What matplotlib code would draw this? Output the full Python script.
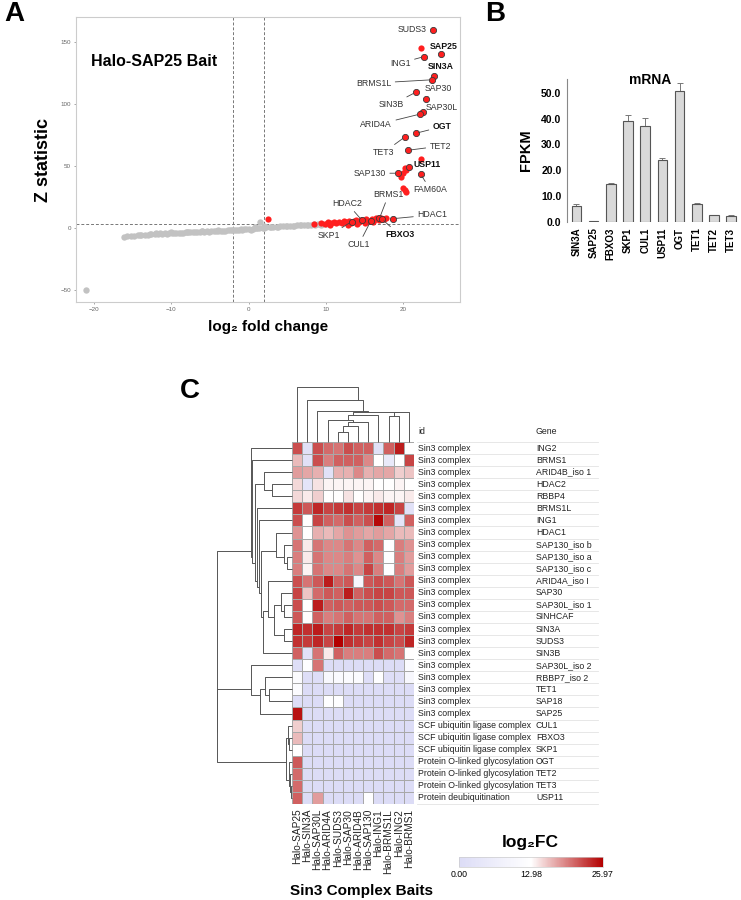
import matplotlib
matplotlib.use('Agg')
import matplotlib.pyplot as plt
import matplotlib.transforms as mtransforms
from matplotlib.colors import LinearSegmentedColormap
import numpy as np

plt.rcParams['font.family'] = ['Liberation Sans', 'DejaVu Sans']

# ---------------- data: panel A (volcano) ----------------
grey_x = [-21.0, -16.1, -15.2, -14.8, -14.3, -13.9, -13.4, -13.0, -12.6, -12.1, -11.7, -11.2,
          -10.8, -10.3, -9.9, -9.4, -9.0, -8.5, -8.1, -7.6, -7.2, -6.7, -6.3, -5.8, -5.4,
          -4.9, -4.5, -4.0, -3.6, -3.1, -2.7, -2.2, -1.8, -1.3, -0.9, -0.4, 0.0, 0.5, 0.9,
          1.4, 1.5, 1.8, 2.3, 2.7, 3.2, 3.6, 4.1, 4.5, 5.0, 5.4, 5.9, 6.3, 6.8, 7.2, 7.7,
          8.1, 8.6, 9.0, 9.5, -12.0, -10.0, -8.0, -6.0, -4.0, -2.0, -1.0, 0.8, 2.0,
          -15.7, -14.0, -12.8, -11.5, -10.5, -9.6, -8.7, -7.8, -6.9, -6.0, -5.1, -4.2, -3.3,
          -2.4, -1.5, -0.6, 0.3, 1.1, 2.0, 2.9, 3.8, 4.8, 5.7, 6.6, 7.5, 8.4, 9.3, 10.0]
grey_y = [-50.0, -7.0, -6.2, -6.4, -5.7, -5.9, -5.3, -5.4, -4.9, -5.1, -4.6, -4.7,
          -4.3, -4.4, -4.0, -4.1, -3.8, -3.8, -3.5, -3.6, -3.3, -3.3, -3.0, -3.1, -2.8,
          -2.8, -2.5, -2.6, -2.3, -2.2, -2.0, -1.9, -1.7, -1.5, -1.3, -1.2, -1.0, -0.6, -0.4,
          0.0, 5.0, 0.2, 0.5, 0.7, 0.9, 1.0, 1.2, 1.3, 1.5, 1.6, 1.8, 2.0, 2.1, 2.3, 2.4,
          2.6, 2.7, 2.9, 3.0, -4.0, -3.4, -2.9, -2.4, -1.9, -1.3, -0.8, 0.8, 1.6,
          -6.8, -5.3, -5.2, -4.2, -4.6, -3.7, -4.1, -3.2, -3.6, -2.7, -3.2, -2.2, -2.6,
          -1.6, -2.0, -0.9, -1.3, -0.1, 0.0, 0.9, 0.7, 1.8, 1.4, 2.6, 2.0, 3.2, 2.6, 3.4]

red_x = [2.5, 8.5, 9.4, 9.8, 10.2, 10.6, 11.0, 11.3, 11.7, 12.0, 12.3, 12.6,
         12.9, 13.2, 13.6, 13.9, 14.2, 14.5, 14.9, 15.2, 15.5, 15.9, 16.2, 16.5, 16.8, 17.1,
         17.5, 17.8, 12.8, 14.0, 15.0, 10.5, 16.0,
         22.2, 22.3, 20.2, 20.3, 20.0, 19.7, 20.0, 20.2, 20.3, 22.3]
red_y = [7.3, 3.2, 4.0, 3.5, 4.5, 3.8, 5.0, 4.2, 4.8, 3.6, 5.3, 4.4,
         5.8, 4.0, 5.5, 6.3, 4.8, 6.0, 5.2, 6.8, 5.6, 7.0, 6.2, 7.6, 6.6, 8.0,
         7.2, 8.4, 2.6, 3.2, 3.8, 2.4, 4.8,
         145.4, 55.6, 48.6, 46.8, 44.0, 41.4, 32.5, 30.6, 29.3, 92.5]

hit_names = ['SUDS3', 'SAP25', 'ING1', 'SIN3A', 'BRMS1L', 'SAP30', 'SIN3B', 'SAP30L', 'ARID4A',
             'OGT', 'TET3', 'TET2', 'USP11', 'SAP130', 'FAM60A', 'BRMS1', 'HDAC2', 'HDAC1',
             'SKP1', 'CUL1', 'FBXO3']
hit_x = [23.8, 24.9, 22.6, 24.0, 23.7, 22.9, 21.6, 22.5, 22.1, 21.6, 20.2, 20.6, 20.7, 19.3,
         22.2, 16.9, 14.6, 18.7, 13.3, 15.8, 17.2]
hit_y = [159.7, 140.0, 138.0, 122.3, 119.4, 104.3, 109.4, 93.8, 91.7, 76.3, 73.4, 62.6, 49.2,
         44.1, 43.5, 7.8, 6.4, 7.5, 5.1, 5.9, 7.3]
bold_hits = ['SAP25', 'SIN3A', 'OGT', 'USP11', 'FBXO3']

# ---------------- data: panel B (mRNA) ----------------
genes_b = ['SIN3A', 'SAP25', 'FBXO3', 'SKP1', 'CUL1', 'USP11', 'OGT', 'TET1', 'TET2', 'TET3']
fpkm = [6.2, 0.2, 14.6, 39.0, 37.2, 23.8, 50.8, 7.1, 2.6, 2.5]
fpkm_err = [0.8, 0.0, 0.3, 2.2, 3.2, 0.8, 3.1, 0.2, 0.1, 0.1]

# ---------------- data: panel C (heatmap) ----------------
baits = ['Halo-SAP25', 'Halo-SIN3A', 'Halo-SAP30L', 'Halo-ARID4A', 'Halo-SUDS3', 'Halo-SAP30',
         'Halo-ARID4B', 'Halo-SAP130', 'Halo-ING1', 'Halo-BRMS1L', 'Halo-ING2', 'Halo-BRMS1']
row_ids = ['Sin3 complex'] * 23 + ['SCF ubiquitin ligase complex'] * 3 + \
          ['Protein O-linked glycosylation'] * 3 + ['Protein deubiquitination']
row_genes = ['ING2', 'BRMS1', 'ARID4B_iso 1', 'HDAC2', 'RBBP4', 'BRMS1L', 'ING1', 'HDAC1',
             'SAP130_iso b', 'SAP130_iso a', 'SAP130_iso c', 'ARID4A_iso I', 'SAP30',
             'SAP30L_iso 1', 'SINHCAF', 'SIN3A', 'SUDS3', 'SIN3B', 'SAP30L_iso 2',
             'RBBP7_iso 2', 'TET1', 'SAP18', 'SAP25', 'CUL1', 'FBXO3', 'SKP1', 'OGT',
             'TET2', 'TET3', 'USP11']
log2fc = [
    [22, 2, 22, 20.5, 20, 22, 21, 21, 2, 21, 24.5, 13],
    [16.5, 2, 22, 19.5, 21, 21, 21, 19, 13, 5, 13, 22.5],
    [18, 17.5, 17, 2, 17, 17, 19, 17, 17.5, 17.5, 15.5, 16],
    [15, 3, 14.5, 13.5, 13.5, 13.5, 13.5, 13.5, 13, 13, 13.5, 13],
    [15, 14, 15.5, 13, 13, 14.5, 13, 13.5, 14, 13.5, 13.5, 14],
    [23, 21.5, 24, 22.5, 23, 23.5, 22.5, 23, 23.5, 24, 22.5, 2],
    [22, 13, 22.5, 21, 20.5, 22, 21, 22, 25.5, 21, 3, 21],
    [18.5, 13, 17, 16.5, 17.5, 18.5, 18, 17.5, 18, 17.5, 16.5, 16.5],
    [20, 14, 20, 19, 19, 20, 19, 21, 20.5, 12.5, 19.5, 18.5],
    [19.5, 14, 20, 19, 19, 19.5, 18.5, 21, 19, 12.5, 19.5, 18],
    [19.5, 13.5, 20, 19, 19, 20, 19, 22.5, 19.5, 12.5, 19.5, 18],
    [22, 20, 21.5, 24.5, 21, 21.5, 10, 21.5, 22, 21.5, 20, 21.5],
    [22.5, 16, 20.5, 21.5, 21, 24.5, 21, 22, 22.5, 22.5, 21.5, 21.5],
    [22, 13, 24.5, 21, 21.5, 21, 21.5, 21.5, 22, 21.5, 20.5, 20.5],
    [21.5, 13, 21, 19.5, 20, 21, 20, 20, 21, 21, 18.5, 19.5],
    [24, 23.5, 24.5, 22.5, 23, 24, 23, 23.5, 23.5, 23.5, 22.5, 23],
    [23.5, 23, 24, 22.5, 26, 23.5, 23, 22.5, 23.5, 22.5, 22, 24],
    [21, 2, 20, 14, 21, 19.5, 19.5, 19.5, 22, 20.5, 20, 13],
    [1, 12.5, 20, 0, 0, 0, 0, 0, 0, 0, 0, 11.5],
    [11.5, 1, 1, 10.5, 11, 11.5, 11.5, 1, 12.5, 1, 1, 10],
    [11.5, 0, 0, 0, 0, 0, 0, 0, 0, 0, 0, 0],
    [1, 0, 0, 12.5, 12.5, 0, 0, 0, 0, 0, 0, 0],
    [25, 0, 0, 0, 0, 0, 0, 0, 0, 0, 0, 0],
    [15.5, 0, 0, 0, 0, 0, 0, 0, 0, 0, 0, 0],
    [16.5, 0, 0, 0, 0, 0, 0, 0, 0, 0, 0, 0],
    [13, 0, 0, 0, 0, 0, 0, 0, 0, 0, 0, 0],
    [21.5, 0, 0, 0, 0, 0, 0, 0, 0, 0, 0, 0],
    [20.5, 0, 0, 0, 0, 0, 0, 0, 0, 0, 0, 0],
    [20.5, 0, 0, 0, 0, 0, 0, 0, 0, 0, 0, 0],
    [21, 0, 18, 0, 0, 0, 0, 12.5, 0, 0, 0, 0],
]

# dendrograms: nodes are (left, right, height), leaves are row / column indices
hdac2_grp = (2, (3, 4, 60), 85)
hdac1_grp = (7, (8, (9, 10, 15), 23), 48)
sap30_grp = ((12, (13, 14, 23), 33), (15, 16, 23), 55)
arid4a_grp = ((11, sap30_grp, 72), 17, 87)
core = (5, (6, (hdac1_grp, arid4a_grp, 92), 99), 105)
sin3_grp = (0, (1, (hdac2_grp, core, 112), 121), 122)
low_grp = (18, ((19, (20, 21, 68), 82), 22, 95), 122)
other_grp = ((23, (24, 25, 8), 12), (26, (27, (28, 29, 3), 5), 8), 18)
row_tree = (sin3_grp, (low_grp, other_grp, 224), 225)

c_mid = (3, ((((4, 5, 30), 6, 48), 7, 58)), 65)
c_left = (c_mid, 8, 80)
c_right = ((9, 10, 78), 11, 88)
col_tree = (0, (1, (2, (c_left, c_right, 90), 93), 125), 163)

W, H = 741, 900
fig = plt.figure(figsize=(W / 100, H / 100), dpi=100)


def px_axes(x0, y0, x1, y1):
    return fig.add_axes([x0 / W, 1 - y1 / H, (x1 - x0) / W, (y1 - y0) / H])


def draw_tree(ax, node, top):
    # returns leaf span (lo, hi) and height; links sit at the centre of the span
    if isinstance(node, int):
        return node, node, 0.0
    left, right, h = node
    lo1, hi1, h1 = draw_tree(ax, left, top)
    lo2, hi2, h2 = draw_tree(ax, right, top)
    p1 = (lo1 + hi1) / 2 + 0.5
    p2 = (lo2 + hi2) / 2 + 0.5
    xs, ys = [p1, p1, p2, p2], [h1, h, h, h2]
    if not top:
        xs, ys = ys, xs
    ax.plot(xs, ys, color='#555555', lw=0.7, clip_on=False, solid_capstyle='butt')
    return min(lo1, lo2), max(hi1, hi2), h


# ================= Panel A =================
axA = px_axes(76, 17, 460, 302)
axA.scatter(grey_x, grey_y, s=21, color='#c2c2c2', linewidths=0, zorder=2)
axA.scatter(red_x, red_y, s=20, color='#ff1f1f', linewidths=0, zorder=3)
axA.scatter(hit_x, hit_y, s=20, color='#ff1f1f', edgecolors='#3a3a3a', linewidths=0.6, zorder=4)
for v in (-2, 2):
    axA.axvline(v, ls=(0, (3, 2)), color='#777777', lw=0.7, zorder=1)
axA.axhline(3, ls=(0, (3, 2)), color='#777777', lw=0.7, zorder=1)
axA.set_xlim(-22.3, 27.3)
axA.set_ylim(-59.7, 170)
axA.set_xticks([-20, -10, 0, 10, 20])
axA.set_yticks([-50, 0, 50, 100, 150])
axA.tick_params(labelsize=4.5, colors='#666666', length=1.5, width=0.4, pad=2)
for sp in axA.spines.values():
    sp.set_color('#cccccc')
    sp.set_linewidth(0.8)
axA.set_xlabel('log₂ fold change', fontsize=11, fontweight='bold', labelpad=6)
axA.set_ylabel('Z statistic', fontsize=13, fontweight='bold', labelpad=6)
axA.text(-20.4, 134, 'Halo-SAP25 Bait', fontsize=11.5, fontweight='bold', va='center')

label_layout = [
    ('SUDS3', 23.0, 160, 'right', False),
    ('SAP25', 23.4, 146, 'left', False),
    ('ING1', 20.9, 132.8, 'right', True),
    ('SIN3A', 23.1, 130, 'left', False),
    ('BRMS1L', 18.4, 116.7, 'right', True),
    ('SAP30', 22.7, 112.3, 'left', True),
    ('SIN3B', 20.1, 99.2, 'right', True),
    ('SAP30L', 22.9, 96.8, 'left', False),
    ('ARID4A', 18.5, 83, 'right', True),
    ('OGT', 23.8, 81.7, 'left', True),
    ('TET3', 18.8, 60.7, 'right', True),
    ('TET2', 23.4, 66, 'left', True),
    ('USP11', 21.3, 51.2, 'left', False),
    ('SAP130', 17.7, 44.1, 'right', True),
    ('FAM60A', 23.5, 30.6, 'center', True),
    ('BRMS1', 18.1, 27.2, 'center', True),
    ('HDAC2', 12.7, 19.9, 'center', True),
    ('HDAC1', 21.8, 10.5, 'left', True),
    ('SKP1', 10.4, -6.2, 'center', True),
    ('CUL1', 14.2, -13.7, 'center', True),
    ('FBXO3', 17.6, -5.6, 'left', True),
]
for name, lx, ly, ha, line in label_layout:
    i = hit_names.index(name)
    bold = name in bold_hits
    props = dict(arrowstyle='-', color='#444444', lw=0.6, shrinkA=1, shrinkB=2) if line else None
    axA.annotate(name, xy=(hit_x[i], hit_y[i]), xytext=(lx, ly), ha=ha, va='center',
                 fontsize=6.3, fontweight='bold' if bold else 'normal',
                 color='#111111' if bold else '#333333', arrowprops=props, zorder=5)

fig.text(4 / W, 1 - 14 / H, 'A', fontsize=20, fontweight='bold', va='center')

# ================= Panel B =================
axB = px_axes(567, 79, 738, 222)
xb = np.arange(len(genes_b))
axB.bar(xb, fpkm, width=0.56, color='#d9d9d9', edgecolor='#555555', linewidth=0.8, zorder=2)
axB.errorbar(xb, fpkm, yerr=[np.zeros(len(fpkm)), fpkm_err], fmt='none', ecolor='#777777',
             elinewidth=0.7, capsize=2, capthick=0.7, zorder=1)
axB.set_xlim(-0.55, 9.4)
axB.set_ylim(0, 55.3)
axB.set_yticks([0, 10, 20, 30, 40, 50])
axB.set_yticklabels([f'{v:.1f}' for v in [0, 10, 20, 30, 40, 50]], fontsize=7.5, fontweight='bold')
axB.set_xticks(xb)
axB.set_xticklabels(genes_b, rotation=90, fontsize=7, fontweight='bold')
axB.tick_params(length=0, pad=4)
for s in ('top', 'right', 'bottom'):
    axB.spines[s].set_visible(False)
axB.spines['left'].set_color('#888888')
axB.spines['left'].set_linewidth(0.8)
axB.set_ylabel('FPKM', fontsize=10.5, fontweight='bold', labelpad=6)
fig.text(650 / W, 1 - 80 / H, 'mRNA', fontsize=10, fontweight='bold', ha='center', va='center')
fig.text(485 / W, 1 - 14 / H, 'B', fontsize=20, fontweight='bold', va='center')

# ================= Panel C =================
cmap = LinearSegmentedColormap.from_list('lfc', ['#dcdcf6', '#ffffff', '#b30000'])
axH = px_axes(292, 442, 414, 804)
mesh = axH.pcolormesh(np.array(log2fc), cmap=cmap, vmin=0, vmax=25.97,
                      edgecolors='#a8a8a8', linewidth=0.4)
axH.set_xlim(0, 12)
axH.set_ylim(30, 0)
axH.axis('off')

axT = px_axes(292, 387, 414, 442)
draw_tree(axT, col_tree, True)
axT.set_xlim(0, 12)
axT.set_ylim(0, 163)
axT.axis('off')

axL = px_axes(216.7, 442, 292, 804)
draw_tree(axL, row_tree, False)
axL.set_xlim(225, 0)
axL.set_ylim(30, 0)
axL.axis('off')

trans = mtransforms.blended_transform_factory(fig.transFigure, axH.transData)
axH.text(418 / W, -0.9, 'id', transform=trans, fontsize=6.3, va='center', color='#222222')
axH.text(536 / W, -0.9, 'Gene', transform=trans, fontsize=6.3, va='center', color='#222222')
for i in range(len(row_genes)):
    axH.text(418 / W, i + 0.5, row_ids[i], transform=trans, fontsize=6.3, va='center',
             color='#222222', clip_on=False)
    axH.text(536 / W, i + 0.5, row_genes[i], transform=trans, fontsize=6.3, va='center',
             color='#222222', clip_on=False)
    axH.plot([417 / W, 598 / W], [i + 1, i + 1], transform=trans, color='#e3e3e3', lw=0.6,
             clip_on=False)
axH.plot([417 / W, 598 / W], [0, 0], transform=trans, color='#e3e3e3', lw=0.6, clip_on=False)

for j, b in enumerate(baits):
    axH.text(j + 0.5, 30.4, b, rotation=90, ha='center', va='top', fontsize=7.3,
             color='#222222', clip_on=False)

fig.text(361 / W, 1 - 891 / H, 'Sin3 Complex Baits', fontsize=11, fontweight='bold',
         ha='center', va='center')

axC = px_axes(459, 857, 603, 867)
cb = fig.colorbar(mesh, cax=axC, orientation='horizontal')
cb.set_ticks([0, 12.98, 25.97])
cb.set_ticklabels(['0.00', '12.98', '25.97'])
cb.ax.tick_params(length=0, labelsize=6.3, pad=2)
cb.outline.set_edgecolor('#cccccc')
cb.outline.set_linewidth(0.5)
fig.text(530 / W, 1 - 843 / H, 'log₂FC', fontsize=12.5, fontweight='bold', ha='center', va='center')

fig.text(180 / W, 1 - 391 / H, 'C', fontsize=20, fontweight='bold', va='center')

fig.savefig('out.png', dpi=100)
